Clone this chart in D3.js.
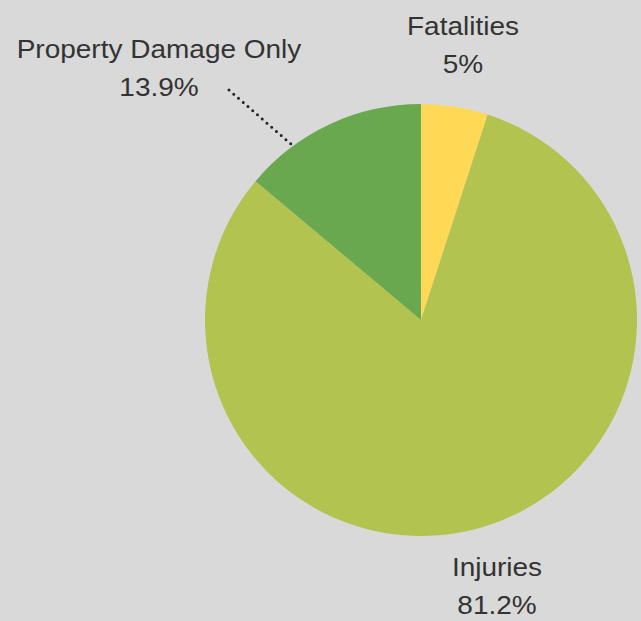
<!DOCTYPE html>
<html lang="en">
<head>
  <meta charset="UTF-8">
  <title>Crash Severity</title>
  <script src="https://d3js.org/d3.v7.min.js"></script>
  <style>
    html, body { margin: 0; padding: 0; background: #d9d9d9; }
    svg { display: block; }
    .lbl { font-family: "Liberation Sans", Arial, sans-serif; font-size: 25px; fill: #333; }
  </style>
</head>
<body>
  <svg id="chart" width="641" height="621"></svg>
  <script>
    // data
    const categories = ["Fatalities", "Injuries", "Property Damage Only"];
    const shares = [5, 81.2, 13.9];
    const shareLabels = ["5%", "81.2%", "13.9%"];
    const colors = ["#ffd955", "#b2c350", "#6aa84f"];

    const width = 641, height = 621;
    const cx = 421, cy = 320, radius = 216;

    const svg = d3.select("#chart");
    svg.append("rect").attr("width", width).attr("height", height).attr("fill", "#d9d9d9");

    const slices = categories.map((c, i) => ({ name: c, value: shares[i], label: shareLabels[i], color: colors[i] }));

    const pie = d3.pie().sort(null).value(d => d.value);
    const arc = d3.arc().innerRadius(0).outerRadius(radius);

    const g = svg.append("g").attr("transform", `translate(${cx},${cy})`);
    g.selectAll("path")
      .data(pie(slices))
      .enter()
      .append("path")
      .attr("d", arc)
      .attr("fill", d => d.data.color);

    // label anchors (name baseline, percent baseline)
    const labelPos = {
      "Fatalities": { x: 463, y: 35 },
      "Injuries": { x: 497, y: 576 },
      "Property Damage Only": { x: 159, y: 58 }
    };

    slices.forEach(s => {
      const p = labelPos[s.name];
      const t = svg.append("g").attr("transform", `translate(${p.x},${p.y}) scale(1.12,1)`);
      t.append("text").attr("class", "lbl").attr("text-anchor", "middle").text(s.name);
      t.append("text").attr("class", "lbl").attr("text-anchor", "middle").attr("y", 38).text(s.label);
    });

    // dotted leader for the property damage slice
    svg.append("line")
      .attr("x1", 229).attr("y1", 90)
      .attr("x2", 292).attr("y2", 145)
      .attr("stroke", "#222")
      .attr("stroke-width", 3)
      .attr("stroke-linecap", "round")
      .attr("stroke-dasharray", "0 6.3");
  </script>
</body>
</html>
